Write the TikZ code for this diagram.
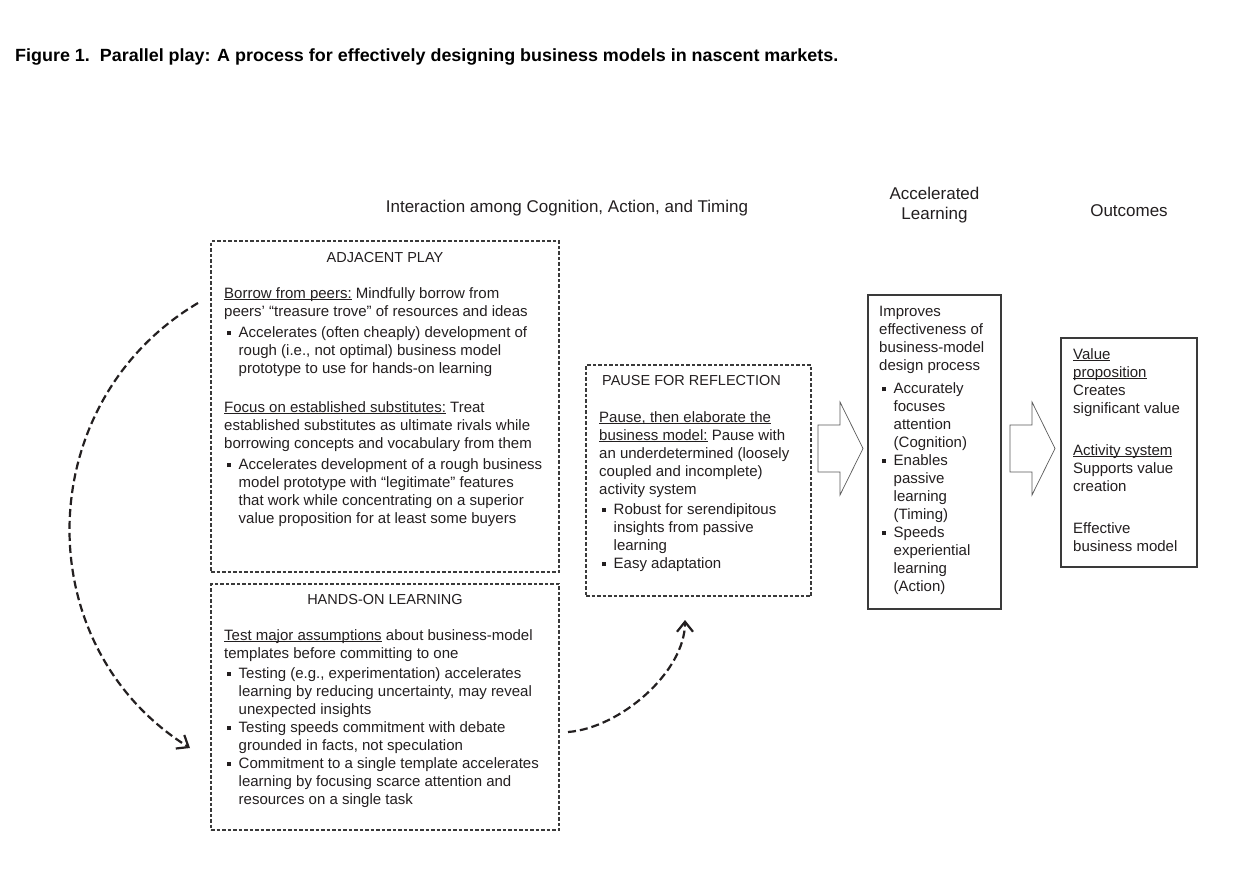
\documentclass[tikz,border=0pt]{standalone}
\usepackage{fontspec}
\setmainfont{Liberation Sans}
\usepackage{graphicx}
\usetikzlibrary{arrows.meta}
\definecolor{ink}{HTML}{231F20}
\definecolor{edge}{HTML}{3A3A3A}
\newcommand\bodyf{\fontsize{15}{18}\selectfont}
\newcommand\headf{\fontsize{17}{20}\selectfont}
\newcommand\capf{\fontsize{14.5}{18}\selectfont}
\newcommand\ulx[1]{\underline{\smash{#1}}}
\newcommand\bul{\makebox[14.5pt][l]{\hspace{2.5pt}\rule[2.2pt]{4.3pt}{4.3pt}}}
\newcommand\ind{\hspace*{14.5pt}}
\begin{document}
\begin{tikzpicture}[x=1pt,y=-1pt,
 dbox/.style={draw=edge, line width=1.1pt, dash pattern=on 3.5pt off 2pt, inner sep=0pt},
 sbox/.style={draw=edge, line width=1.3pt, inner sep=0pt},
 txt/.style={inner sep=0pt, anchor=north west, align=left, font=\bodyf, text=ink},
 boxcap/.style={inner sep=0pt, font=\capf, text=ink},
 head/.style={inner sep=0pt, anchor=base, font=\headf, text=ink},
 barrow/.style={draw=black!65, line width=0.7pt, fill=white, line join=miter},
 flow/.style={draw=ink, line width=2.2pt, dash pattern=on 8pt off 4pt, -{Straight Barb[length=10pt,width=16pt,line width=2.2pt]}}
]
\fill[white] (0,0) rectangle (1240,878);
\useasboundingbox (0,0) rectangle (1240,878);

% title
\node[anchor=base west, inner sep=0pt, text=black] (title) at (15,61)
 {\resizebox{823pt}{12.8pt}{\bfseries Figure 1.\ \ Parallel play: A process for effectively designing business models in nascent markets.}};

% column headers
\node[head] (hint) at (567,212) {Interaction among Cognition, Action, and Timing};
\node[head] (hacc1) at (934.5,199) {Accelerated};
\node[head] (hacc2) at (934.5,219) {Learning};
\node[head] (hout) at (1129,216) {Outcomes};

% boxes
\node[dbox, minimum width=348pt, minimum height=331pt] (adj) at (385,406.5) {};
\node[dbox, minimum width=348pt, minimum height=246pt] (hol) at (385,707) {};
\node[dbox, minimum width=225pt, minimum height=231pt] (pause) at (698.5,480.5) {};
\node[sbox, minimum width=133pt, minimum height=314pt] (acc) at (934.5,452) {};
\node[sbox, minimum width=136pt, minimum height=229pt] (out) at (1129,452.5) {};

% box headers
\node[boxcap, anchor=base] (adjh) at (385,262) {ADJACENT PLAY};
\node[boxcap, anchor=base] (holh) at (385,604) {HANDS-ON LEARNING};
\node[boxcap, anchor=base west] (pauseh) at (602,385) {PAUSE FOR REFLECTION};

% box texts
\node[txt] (adjt) at (224,285.4) {\strut\ulx{Borrow from peers:} Mindfully borrow from\\
peers’ “treasure trove” of resources and ideas\\[3pt]
\bul Accelerates (often cheaply) development of\\
\ind rough (i.e., not optimal) business model\\
\ind prototype to use for hands-on learning\\[21pt]
\ulx{Focus on established substitutes:} Treat\\
established substitutes as ultimate rivals while\\
borrowing concepts and vocabulary from them\\[3pt]
\bul Accelerates development of a rough business\\
\ind model prototype with “legitimate” features\\
\ind that work while concentrating on a superior\\
\ind value proposition for at least some buyers};

\node[txt] (holt) at (224,627.4) {\strut\ulx{Test major assumptions} about business-model\\
templates before committing to one\\[2pt]
\bul Testing (e.g., experimentation) accelerates\\
\ind learning by reducing uncertainty, may reveal\\
\ind unexpected insights\\
\bul Testing speeds commitment with debate\\
\ind grounded in facts, not speculation\\
\bul Commitment to a single template accelerates\\
\ind learning by focusing scarce attention and\\
\ind resources on a single task};

\node[txt] (pauset) at (599,409.4) {\strut\ulx{Pause, then elaborate the}\\
\ulx{business model:} Pause with\\
an underdetermined (loosely\\
coupled and incomplete)\\
activity system\\[2pt]
\bul Robust for serendipitous\\
\ind insights from passive\\
\ind learning\\
\bul Easy adaptation};

\node[txt] (acct) at (879,303.4) {\strut Improves\\
effectiveness of\\
business-model\\
design process\\[5pt]
\bul Accurately\\
\ind focuses\\
\ind attention\\
\ind (Cognition)\\
\bul Enables\\
\ind passive\\
\ind learning\\
\ind (Timing)\\
\bul Speeds\\
\ind experiential\\
\ind learning\\
\ind (Action)};

\node[txt] (outt) at (1073,346.4) {\strut\ulx{Value}\\
\ulx{proposition}\\
Creates\\
significant value\\[24pt]
\ulx{Activity system}\\
Supports value\\
creation\\[24pt]
Effective\\
business model};

% block arrows
\draw[barrow] (818,425) -- (840,425) -- (840,402) -- (863,448.5) -- (840,495) -- (840,472) -- (818,472) -- cycle;
\draw[barrow] (1010,425) -- (1032,425) -- (1032,402) -- (1055,448.5) -- (1032,495) -- (1032,472) -- (1010,472) -- cycle;

% curved dashed arrows
\coordinate (a1s) at (198,303);
\coordinate (a1e) at (190,748);
\draw[flow] (a1s) .. controls (31,402) and (26,645) .. (a1e);
\coordinate (a2s) at (568,732);
\coordinate (a2e) at (685,620);
\draw[flow] (a2s) .. controls (620,728) and (685,672) .. (a2e);
\end{tikzpicture}
\end{document}
